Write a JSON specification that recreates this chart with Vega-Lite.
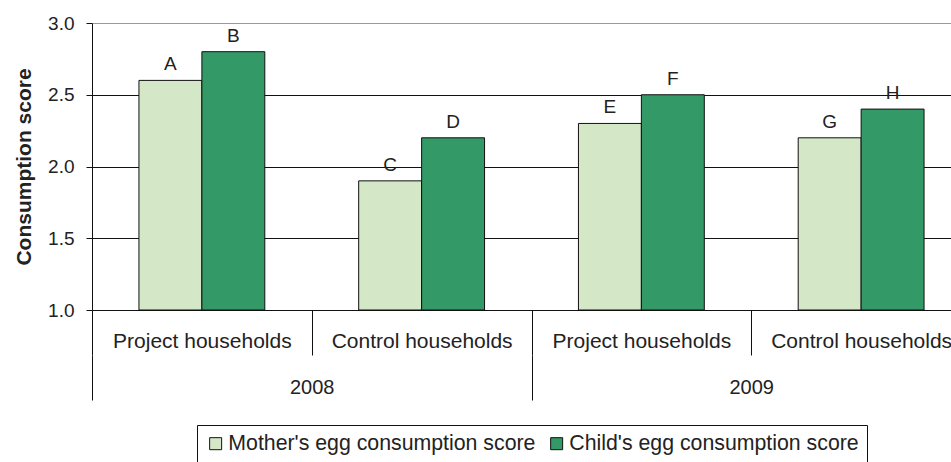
{
  "$schema": "https://vega.github.io/schema/vega-lite/v6.json",
  "width": 859,
  "height": 287,
  "autosize": {"type": "none"},
  "padding": {"left": 92, "top": 23, "right": 0, "bottom": 152},
  "background": "white",
  "config": {"font": "Liberation Sans", "view": {"stroke": null}},
  "data": {
    "values": [
      {"year": "2008", "group": "2008 Project households", "series": "Mother's egg consumption score", "value": 2.6, "label": "A"},
      {"year": "2008", "group": "2008 Project households", "series": "Child's egg consumption score", "value": 2.8, "label": "B"},
      {"year": "2008", "group": "2008 Control households", "series": "Mother's egg consumption score", "value": 1.9, "label": "C"},
      {"year": "2008", "group": "2008 Control households", "series": "Child's egg consumption score", "value": 2.2, "label": "D"},
      {"year": "2009", "group": "2009 Project households", "series": "Mother's egg consumption score", "value": 2.3, "label": "E"},
      {"year": "2009", "group": "2009 Project households", "series": "Child's egg consumption score", "value": 2.5, "label": "F"},
      {"year": "2009", "group": "2009 Control households", "series": "Mother's egg consumption score", "value": 2.2, "label": "G"},
      {"year": "2009", "group": "2009 Control households", "series": "Child's egg consumption score", "value": 2.4, "label": "H"}
    ]
  },
  "layer": [
    {
      "layer": [
        {
          "mark": {"type": "bar", "stroke": "#111111", "strokeWidth": 1},
          "encoding": {
            "x": {
              "field": "group", "type": "nominal", "sort": null,
              "scale": {"range": [0, 879], "paddingInner": 0, "paddingOuter": 0},
              "axis": {
                "title": null, "orient": "bottom", "domain": false, "ticks": true,
                "tickBand": "extent", "tickSize": 45, "tickColor": "#111111",
                "labelExpr": "substring(datum.label, 5)", "labelFontSize": 21,
                "labelColor": "#222222", "labelBaseline": "middle", "labelPadding": -14,
                "labelAngle": 0, "labelOverlap": false, "labelLimit": 0, "grid": false
              }
            },
            "xOffset": {
              "field": "series", "type": "nominal", "sort": null,
              "scale": {"paddingInner": 0, "paddingOuter": 0.746}
            },
            "y": {
              "field": "value", "type": "quantitative",
              "scale": {"domain": [1, 3], "zero": false, "nice": false},
              "axis": {
                "title": "Consumption score", "titleFontSize": 21, "titleFontWeight": "bold",
                "titleColor": "#222222", "titlePadding": 13,
                "values": [1, 1.5, 2, 2.5, 3], "format": ".1f",
                "labelFontSize": 19, "labelColor": "#222222", "labelPadding": 12,
                "tickSize": 6, "tickColor": "#111111", "domainColor": "#111111",
                "grid": true, "gridOpacity": 1,
                "gridColor": {"condition": {"test": "datum.value == 3", "value": "#999999"}, "value": "#111111"}
              }
            },
            "y2": {"datum": 1},
            "color": {
              "field": "series", "type": "nominal",
              "scale": {
                "domain": ["Mother's egg consumption score", "Child's egg consumption score"],
                "range": ["#d4e8c8", "#339966"]
              },
              "legend": {
                "title": null, "orient": "none", "legendX": 105, "legendY": 402,
                "direction": "horizontal", "symbolType": "square", "symbolSize": 144,
                "symbolStrokeColor": "#111111", "symbolStrokeWidth": 1,
                "labelFontSize": 21.3, "labelColor": "#222222", "labelOffset": 2,
                "columnPadding": 10, "padding": 8, "strokeColor": "#111111", "labelLimit": 0
              }
            }
          }
        },
        {
          "mark": {"type": "text", "baseline": "middle", "dy": -16, "fontSize": 19, "color": "#222222"},
          "encoding": {
            "x": {"field": "group", "type": "nominal", "sort": null},
            "xOffset": {"field": "series", "type": "nominal", "sort": null},
            "y": {"field": "value", "type": "quantitative"},
            "text": {"field": "label"}
          }
        }
      ]
    },
    {
      "mark": {"type": "bar", "opacity": 0},
      "encoding": {
        "x": {
          "field": "year", "type": "nominal",
          "scale": {"range": [0, 879], "paddingInner": 0, "paddingOuter": 0},
          "axis": {
            "title": null, "orient": "bottom", "offset": 45, "domain": false,
            "tickBand": "extent", "tickSize": 45, "tickColor": "#111111",
            "labelFontSize": 20, "labelColor": "#222222", "labelBaseline": "middle",
            "labelPadding": -13, "labelAngle": 0, "grid": false
          }
        }
      }
    }
  ],
  "resolve": {"scale": {"x": "independent"}, "axis": {"x": "independent"}}
}
